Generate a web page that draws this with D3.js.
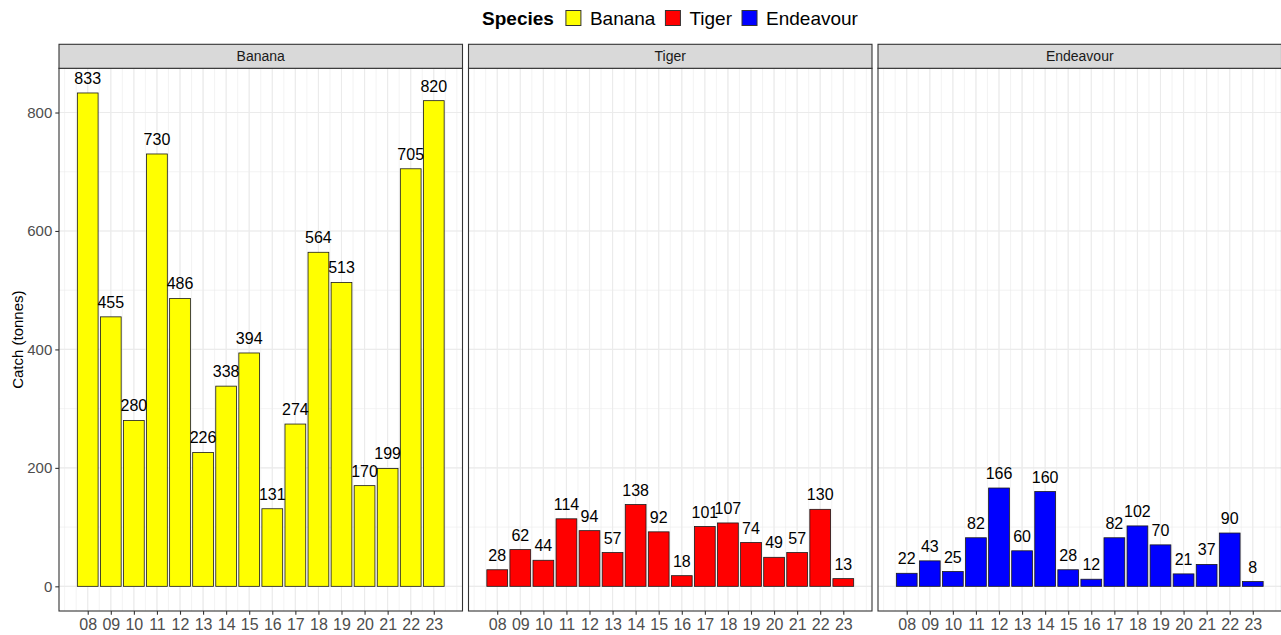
<!DOCTYPE html>
<html>
<head>
<meta charset="utf-8">
<script src="https://cdn.jsdelivr.net/npm/d3@7"></script>
<style>
    body { margin: 0; background: #fff; }
    text { font-family: "Liberation Sans", Arial, sans-serif; }
</style>
</head>
<body>
<div id="chart"></div>
<script>
// Dữ liệu
const years = ["08", "09", "10", "11", "12", "13", "14", "15", "16", "17", "18", "19", "20", "21", "22", "23"];
const species = ["Banana", "Tiger", "Endeavour"];
const banana = [833, 455, 280, 730, 486, 226, 338, 394, 131, 274, 564, 513, 170, 199, 705, 820];
const tiger = [28, 62, 44, 114, 94, 57, 138, 92, 18, 101, 107, 74, 49, 57, 130, 13];
const endeavour = [22, 43, 25, 82, 166, 60, 160, 28, 12, 82, 102, 70, 21, 37, 90, 8];
const speciesColors = ["#FFFF00", "#FF0000", "#0000FF"];
const yTicks = [0, 200, 400, 600, 800];

const series = [banana, tiger, endeavour];

const W = 1281, H = 635;
const panelTop = 68.3, panelBottom = 611, stripTop = 44.3;
const panelW = 403.5, panelLefts = [59, 468.5, 878];

const svg = d3.select("#chart").append("svg")
    .attr("width", W)
    .attr("height", H);

// Thang đo x: số năm liên tục, mở rộng 5%
const yearNums = years.map(d => +d);
const lo = d3.min(yearNums) - 0.45, hi = d3.max(yearNums) + 0.45;
const padX = (hi - lo) * 0.05;

// Thang đo y chung cho cả 3 panel
const yMax = d3.max(series.flat());
const y = d3.scaleLinear()
    .domain([-0.05 * yMax, yMax * 1.05])
    .range([panelBottom, panelTop]);

const grid = "#EBEBEB";

species.forEach((sp, i) => {
    const x = d3.scaleLinear()
        .domain([lo - padX, hi + padX])
        .range([panelLefts[i], panelLefts[i] + panelW]);
    const g = svg.append("g");

    // Lưới phụ
    const xMinor = d3.range(7, 24.01, 0.5).filter(v => v >= x.domain()[0] && v <= x.domain()[1]);
    const yMinor = d3.range(-200, 1001, 100).filter(v => v >= y.domain()[0] && v <= y.domain()[1]);
    g.selectAll(".xminor").data(xMinor).enter().append("line")
        .attr("x1", d => x(d)).attr("x2", d => x(d))
        .attr("y1", panelTop).attr("y2", panelBottom)
        .attr("stroke", grid).attr("stroke-width", 0.6);
    g.selectAll(".yminor").data(yMinor).enter().append("line")
        .attr("x1", x.range()[0]).attr("x2", x.range()[1])
        .attr("y1", d => y(d)).attr("y2", d => y(d))
        .attr("stroke", grid).attr("stroke-width", 0.6);

    // Lưới chính
    g.selectAll(".xmajor").data(yearNums).enter().append("line")
        .attr("x1", d => x(d)).attr("x2", d => x(d))
        .attr("y1", panelTop).attr("y2", panelBottom)
        .attr("stroke", grid).attr("stroke-width", 1.1);
    g.selectAll(".ymajor").data(yTicks).enter().append("line")
        .attr("x1", x.range()[0]).attr("x2", x.range()[1])
        .attr("y1", d => y(d)).attr("y2", d => y(d))
        .attr("stroke", grid).attr("stroke-width", 1.1);

    // Vẽ cột
    const vals = series[i];
    g.selectAll(".bar").data(vals).enter().append("rect")
        .attr("x", (d, j) => x(yearNums[j] - 0.45))
        .attr("y", d => y(d))
        .attr("width", (d, j) => x(yearNums[j] + 0.45) - x(yearNums[j] - 0.45))
        .attr("height", d => y(0) - y(d))
        .attr("fill", speciesColors[i])
        .attr("stroke", "#1a1a1a")
        .attr("stroke-width", 0.8);

    // Nhãn số liệu trên cột
    g.selectAll(".label").data(vals).enter().append("text")
        .attr("x", (d, j) => x(yearNums[j]))
        .attr("y", d => y(d) - 9)
        .attr("text-anchor", "middle")
        .style("font-size", "16px")
        .attr("fill", "#000")
        .text(d => d);

    // Khung panel
    g.append("rect")
        .attr("x", x.range()[0]).attr("y", panelTop)
        .attr("width", panelW).attr("height", panelBottom - panelTop)
        .attr("fill", "none").attr("stroke", "#333333").attr("stroke-width", 1.1);

    // Strip tiêu đề panel
    g.append("rect")
        .attr("x", x.range()[0]).attr("y", stripTop)
        .attr("width", panelW).attr("height", panelTop - stripTop)
        .attr("fill", "#D9D9D9").attr("stroke", "#333333").attr("stroke-width", 1.1);
    g.append("text")
        .attr("x", x.range()[0] + panelW / 2)
        .attr("y", (stripTop + panelTop) / 2 + 5)
        .attr("text-anchor", "middle")
        .style("font-size", "14px")
        .attr("fill", "#1A1A1A")
        .text(sp);

    // Trục X
    const xAxis = g.append("g")
        .attr("transform", `translate(0,${panelBottom})`)
        .call(d3.axisBottom(x).tickValues(yearNums).tickSize(3.7).tickPadding(4)
            .tickFormat((d, j) => years[j]));
    xAxis.select(".domain").remove();
    xAxis.selectAll("line").attr("stroke", "#333333").attr("stroke-width", 1.1);
    xAxis.selectAll("text").attr("fill", "#4D4D4D")
        .style("font-size", "16px").style("font-family", "Liberation Sans, Arial, sans-serif");

    // Trục Y chỉ ở panel đầu
    if (i === 0) {
        const yAxis = g.append("g")
            .attr("transform", `translate(${x.range()[0]},0)`)
            .call(d3.axisLeft(y).tickValues(yTicks).tickSize(3.7).tickPadding(3));
        yAxis.select(".domain").remove();
        yAxis.selectAll("line").attr("stroke", "#333333").attr("stroke-width", 1.1);
        yAxis.selectAll("text").attr("fill", "#4D4D4D")
            .style("font-size", "15px").style("font-family", "Liberation Sans, Arial, sans-serif");
    }
});

// Tiêu đề trục Y
svg.append("text")
    .attr("transform", `translate(23,${(panelTop + panelBottom) / 2}) rotate(-90)`)
    .attr("text-anchor", "middle")
    .style("font-size", "15px")
    .attr("fill", "#000")
    .text("Catch (tonnes)");

// Chú giải ở trên
const legend = svg.append("g");
const legY = 18, keySize = 15;
let cx = 0;
const title = legend.append("text")
    .attr("x", cx).attr("y", legY + 7)
    .style("font-size", "19px").style("font-weight", "bold")
    .text("Species");
cx += title.node().getComputedTextLength() + 12;
species.forEach((sp, i) => {
    legend.append("rect")
        .attr("x", cx).attr("y", legY - keySize / 2)
        .attr("width", keySize).attr("height", keySize)
        .attr("fill", speciesColors[i])
        .attr("stroke", "#333333").attr("stroke-width", 1);
    cx += keySize + 9;
    const t = legend.append("text")
        .attr("x", cx).attr("y", legY + 7)
        .style("font-size", "19px")
        .attr("fill", "#000")
        .text(sp);
    cx += t.node().getComputedTextLength() + (i < species.length - 1 ? 10 : 0);
});
legend.attr("transform", `translate(${670 - cx / 2},0)`);
</script>
</body>
</html>
